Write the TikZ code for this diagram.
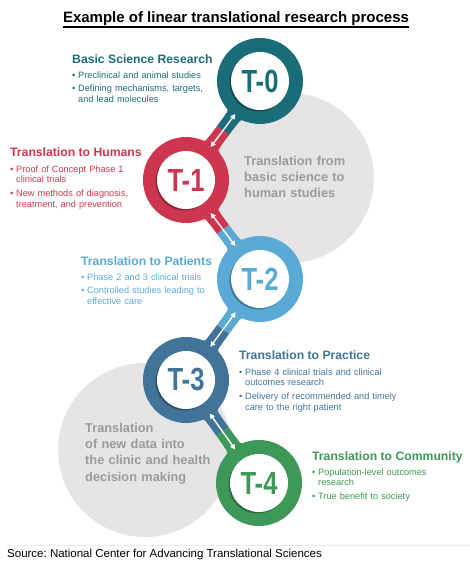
\documentclass[tikz,border=0pt]{standalone}
\usepackage{fontspec}
\setmainfont{Liberation Sans}
\usepackage{graphicx}
\usetikzlibrary{arrows.meta,calc,shadows}

\definecolor{tzero}{HTML}{1B6C79}
\definecolor{tone}{HTML}{CE364F}
\definecolor{ttwo}{HTML}{5BAAD6}
\definecolor{tthree}{HTML}{427398}
\definecolor{tfour}{HTML}{3E9859}
\definecolor{hazefill}{HTML}{E5E5E5}
\definecolor{hazetext}{HTML}{9B9B9B}

\frenchspacing
% one bullet, hanging indent for the wrapped line
\newcommand\bitem[1]{\hangindent=6pt\hangafter=1\makebox[6pt][l]{\textbullet}#1\par\vspace{3.3pt}}
\newcommand\narrow[1]{\scalebox{.8}[1]{#1}}
% rounded join where a stem leaves ring #1 towards ring #2
\newcommand\fillet[3]{%
  \fill[#3] ($(#1)!41pt!(#2)!13pt!90:(#2)$) .. controls ($(#1)!42.3pt!(#2)!7.5pt!90:(#2)$) .. ($(#1)!50pt!(#2)!7.5pt!90:(#2)$)
    -- ($(#1)!50pt!(#2)!7.5pt!-90:(#2)$) .. controls ($(#1)!42.3pt!(#2)!7.5pt!-90:(#2)$) .. ($(#1)!41pt!(#2)!13pt!-90:(#2)$) -- cycle;}

\begin{document}
\begin{tikzpicture}[x=1pt,y=-1pt,>=Stealth,line cap=round,line join=round,
  ring/.style={circle,minimum size=86pt,inner sep=0pt,fill=#1},
  hub/.style={circle,minimum size=58pt,inner sep=0pt,fill=white,text=#1,
    font=\fontsize{32}{32}\selectfont\bfseries,
    drop shadow={shadow xshift=-1.5pt,shadow yshift=-1.5pt,fill=black,opacity=.3}},
  stem/.style={line width=15pt,line cap=butt,draw=#1},
  link/.style={white,line width=1.4pt,{Triangle[length=5pt,width=5pt]}-{Triangle[length=5pt,width=5pt]},shorten <=-2pt,shorten >=-2pt},
  head/.style={anchor=base west,inner sep=0pt,text=#1,font=\fontsize{12.2}{14}\selectfont\bfseries},
  items/.style={anchor=base west,inner sep=0pt,text=#1,text width=190pt,font=\fontsize{9.2}{10.6}\selectfont},
  hazenote/.style={anchor=base west,inner sep=0pt,text=hazetext,text width=150pt,font=\fontsize{12.8}{16.4}\selectfont\bfseries}]
  \useasboundingbox (0,0) rectangle (470,562);

  % Title
  \node[anchor=base,inner sep=0pt,font=\fontsize{15}{18}\selectfont\bfseries] (title) at (236,22) {Example of linear translational research process};
  \draw[line width=1.1pt,line cap=butt] ([yshift=-5pt]title.base west) -- ([yshift=-5pt]title.base east);

  % Grey backdrops
  \fill[hazefill] (289,178) circle (85);
  \fill[hazefill] (145,450) circle (87);
  \node[hazenote] (g1) at (244,165) {Translation from\\basic science to\\human studies};
  \node[hazenote] (g2) at (85,432) {Translation\\of new data into\\the clinic and health\\decision making};

  % Centres of the rings
  \coordinate (p0) at (260,81);
  \coordinate (p1) at (186,180);
  \coordinate (p2) at (260,279);
  \coordinate (p3) at (186,380);
  \coordinate (p4) at (259,483);

  % Stems, half in each colour
  \draw[stem=tzero] (p0) -- ($(p0)!.5!(p1)$);
  \draw[stem=tone] ($(p0)!.5!(p1)$) -- (p1);
  \draw[stem=tone] (p1) -- ($(p1)!.5!(p2)$);
  \draw[stem=ttwo] ($(p1)!.5!(p2)$) -- (p2);
  \draw[stem=ttwo] (p2) -- ($(p2)!.5!(p3)$);
  \draw[stem=tthree] ($(p2)!.5!(p3)$) -- (p3);
  \draw[stem=tthree] (p3) -- ($(p3)!.5!(p4)$);
  \draw[stem=tfour] ($(p3)!.5!(p4)$) -- (p4);
  \fillet{p0}{p1}{tzero}
  \fillet{p1}{p0}{tone}
  \fillet{p1}{p2}{tone}
  \fillet{p2}{p1}{ttwo}
  \fillet{p2}{p3}{ttwo}
  \fillet{p3}{p2}{tthree}
  \fillet{p3}{p4}{tthree}
  \fillet{p4}{p3}{tfour}

  % Rings
  \node[ring=tzero] (r0) at (p0) {};
  \node[ring=tone] (r1) at (p1) {};
  \node[ring=ttwo] (r2) at (p2) {};
  \node[ring=tthree] (r3) at (p3) {};
  \node[ring=tfour] (r4) at (p4) {};
  \node[hub=tzero] (t0) at (p0) {\narrow{T-0}};
  \node[hub=tone] (t1) at (p1) {\narrow{T-1}};
  \node[hub=ttwo] (t2) at (p2) {\narrow{T-2}};
  \node[hub=tthree] (t3) at (p3) {\narrow{T-3}};
  \node[hub=tfour] (t4) at (p4) {\narrow{T-4}};

  % Two-way arrows
  \draw[link] (r0) -- (r1);
  \draw[link] (r1) -- (r2);
  \draw[link] (r2) -- (r3);
  \draw[link] (r3) -- (r4);

  % Labels
  \node[head=tzero] (h0) at (72,63) {Basic Science Research};
  \node[items=tzero] (b0) at (72,78) {\bitem{Preclinical and animal studies}\bitem{Defining mechanisms, targets,\newline and lead molecules}};
  \node[head=tone] (h1) at (10,156) {Translation to Humans};
  \node[items=tone] (b1) at (10,172) {\bitem{Proof of Concept Phase 1\newline clinical trials}\bitem{New methods of diagnosis,\newline treatment, and prevention}};
  \node[head=ttwo] (h2) at (81,265) {Translation to Patients};
  \node[items=ttwo] (b2) at (81,280) {\bitem{Phase 2 and 3 clinical trials}\bitem{Controlled studies leading to\newline effective care}};
  \node[head=tthree] (h3) at (239,359) {Translation to Practice};
  \node[items=tthree] (b3) at (239,375) {\bitem{Phase 4 clinical trials and clinical\newline outcomes research}\bitem{Delivery of recommended and timely\newline care to the right patient}};
  \node[head=tfour] (h4) at (312,460) {Translation to Community};
  \node[items=tfour] (b4) at (312,475) {\bitem{Population-level outcomes\newline research}\bitem{True benefit to society}};

  % Source line
  \draw[black!8,line width=.6pt,line cap=butt] (6,545) -- (470,545);
  \node[anchor=base west,inner sep=0pt,font=\fontsize{11.5}{13}\selectfont] (src) at (7,557) {Source: National Center for Advancing Translational Sciences};
\end{tikzpicture}
\end{document}
